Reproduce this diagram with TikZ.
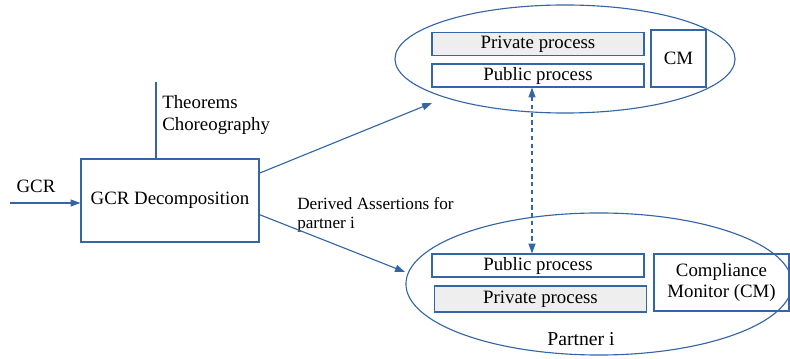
\documentclass[tikz,border=0pt]{standalone}
\usepackage{fontspec}
\setmainfont{Liberation Serif}
\usetikzlibrary{shapes.geometric,arrows.meta}
\definecolor{lineblue}{HTML}{3465A4}
\definecolor{privgray}{HTML}{EEEEEE}
\newcommand{\pxUnit}[0]{0.025cm}

\begin{document}
\begin{tikzpicture}[x=\pxUnit, y=-\pxUnit, font=\fontsize{13.4}{15.6}\selectfont]
  \tikzset{proc/.style={draw=lineblue, line width=0.8pt, inner sep=0pt, minimum width=5.3cm, minimum height=0.575cm},
           priv/.style={proc, fill=privgray},
           cmbox/.style={draw=lineblue, line width=0.8pt, align=center, inner sep=0pt},
           partnerbox/.style={ellipse, draw=lineblue, line width=0.8pt, inner sep=0pt},
           link/.style={draw=lineblue, line width=0.8pt},
           flow/.style={link, -{Triangle[length=7pt,width=5pt]}},
           dflow/.style={link, dashed, dash pattern=on 3pt off 2.5pt, {Triangle[length=7pt,width=5pt]}-{Triangle[length=7pt,width=5pt]}},
           note/.style={anchor=north west, align=left, inner sep=0pt}}
  \useasboundingbox (0,0) rectangle (790,359);
  % partners
  \node[partnerbox, minimum width=8.5cm, minimum height=2.7cm] (topPartner) at (565,59) {};
  \node[partnerbox, minimum width=9.65cm, minimum height=3.55cm] (partner) at (599,284) {};
  \node[priv] (topPriv) at (538,44) {Private process};
  \node[proc] (topPub) at (538,75.5) {Public process};
  \node[cmbox, minimum width=1.375cm, minimum height=1.425cm] (topCM) at (678.5,58.5) {CM};
  \node[proc] (botPub) at (538,265.5) {Public process};
  \node[priv, minimum height=0.65cm] (botPriv) at (540.5,299) {Private process};
  \node[cmbox, minimum width=3.375cm, minimum height=1.425cm] (botCM) at (721.5,282.5) {Compliance\\Monitor (CM)};
  \node[font=\fontsize{14}{16}\selectfont] (partnerLabel) at (581,339) {Partner i};
  % decomposition
  \node[draw=lineblue, line width=0.8pt, minimum width=4.45cm, minimum height=2.075cm] (decomp) at (170,200.5) {GCR Decomposition};
  \node (gcrLabel) at (36,186) {GCR};
  \coordinate (gcrStart) at (10,203);
  \coordinate (theoTop) at (156,82);
  \node[note] (theorems) at (162,95) {Theorems\\Choreography};
  \node[note, font=\fontsize{12.2}{13.5}\selectfont] (derived) at (297,197) {Derived Assertions for\\partner i};
  \coordinate (topTip) at (432,103);
  \coordinate (botTip) at (405,272);
  % connectors
  \draw[flow] (gcrStart) -- (gcrStart -| decomp.west);
  \draw[link] (theoTop) -- (theoTop |- decomp.north);
  \draw[flow] (decomp.17) -- (topTip);
  \draw[flow] (decomp.351) -- (botTip);
  \draw[dflow] ([xshift=-0.15cm]topPub.south) -- ([xshift=-0.15cm]botPub.north);
\end{tikzpicture}
\end{document}
